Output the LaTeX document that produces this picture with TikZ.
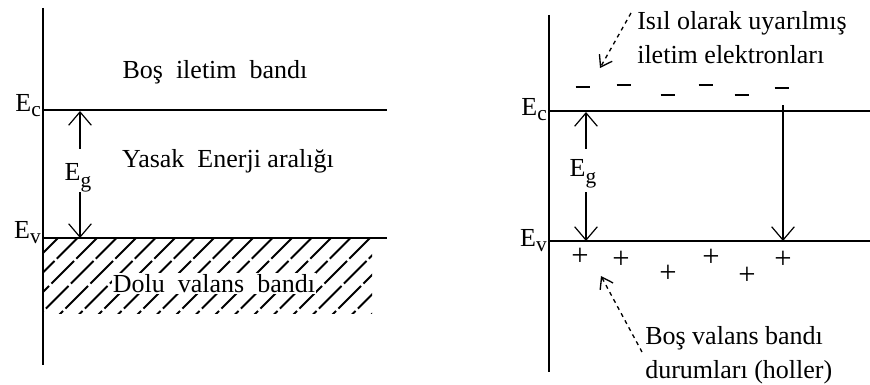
\documentclass[tikz,border=0pt]{standalone}
\usepackage{fontspec}
\setmainfont{Liberation Serif}
\usetikzlibrary{arrows.meta}
\newcommand{\lowsub}[2][4pt]{\raisebox{-#1}{\fontsize{16}{16}\selectfont #2}}

\begin{document}
\begin{tikzpicture}[x=0.75pt,y=-0.75pt,
    font=\fontsize{19.5}{25.5}\selectfont,
    level/.style={line width=1.3pt},
    gaparrow/.style={line width=0.9pt,-{Straight Barb[length=10pt,width=17pt,line width=0.9pt]}},
    notearrow/.style={line width=1pt,dashed,-{Straight Barb[length=8pt,width=11pt,line width=1pt]}},
    hatch/.style={line width=1.4pt,dash pattern=on 24pt off 2.5pt},
    charge/.style={inner sep=0pt,font=\fontsize{23}{23}\selectfont}]
    \useasboundingbox (0,0) rectangle (870,385);

    % left: empty conduction band, filled valence band
    \coordinate (lTop) at (43,8);
    \coordinate (lBot) at (43,365);
    \coordinate (lc0) at (43,110);
    \coordinate (lc1) at (387,110);
    \coordinate (lv0) at (43,238);
    \coordinate (lv1) at (387,238);
    \coordinate (lgA) at (80,111);
    \coordinate (lgB) at (80,238);

    \begin{scope}
        \clip (43,238) rectangle (372,313);
        \foreach \k in {0,...,20}
            \draw[hatch] ({60+19.5*\k},236) -- ++(-80,80);
    \end{scope}
    \node[anchor=base, fill=white, inner sep=1pt] (lDolu) at (214,292) {Dolu\ \ valans\ \ bandı};

    \draw[level] (lTop) -- (lBot);
    \draw[level] (lc0) -- (lc1);
    \draw[level] (lv0) -- (lv1);

    \node[anchor=base east, inner sep=0pt] (lEc) at (41,111) {E\lowsub{c}};
    \node[anchor=base east, inner sep=0pt] (lEv) at (41,238) {E\lowsub{v}};
    \node[anchor=base, inner sep=0pt] (lBos) at (215,79) {Boş\ \ iletim\ \ bandı};
    \node[anchor=base, inner sep=0pt] (lYasak) at (228,167) {Yasak\ \ Enerji aralığı};

    \node[inner sep=0pt] (lEg) at (78,178) {E\lowsub[5pt]{g}};
    \draw[gaparrow, shorten <=11pt] (lgA |- lEg.north) -- (lgA);
    \draw[gaparrow] (lgB |- lEg.south) -- (lgB);

    % right: thermally excited electrons and holes
    \coordinate (rTop) at (549,15);
    \coordinate (rBot) at (549,372);
    \coordinate (rc0) at (549,111);
    \coordinate (rc1) at (870,111);
    \coordinate (rv0) at (549,241);
    \coordinate (rv1) at (870,241);
    \coordinate (rgA) at (586,112);
    \coordinate (rgB) at (586,241);
    \coordinate (rjump) at (783,105);
    \coordinate (rland) at (783,241);

    \draw[level] (rTop) -- (rBot);
    \draw[level] (rc0) -- (rc1);
    \draw[level] (rv0) -- (rv1);

    \node[anchor=base east, inner sep=0pt] (rEc) at (547,115) {E\lowsub{c}};
    \node[anchor=base east, inner sep=0pt] (rEv) at (547,246) {E\lowsub{v}};

    \node[inner sep=0pt] (rEg) at (583,174) {E\lowsub[5pt]{g}};
    \draw[gaparrow, shorten <=8pt] (rgA |- rEg.north) -- (rgA);
    \draw[gaparrow, shorten <=3pt] (rgB |- rEg.south) -- (rgB);
    \draw[gaparrow] (rjump) -- (rland);

    \foreach \x/\y [count=\i] in {583/87, 624/85, 668/95, 706/85, 742/95, 782/88}
        \node[charge] (minus\i) at (\x,\y) {\rule{11pt}{1pt}};
    \foreach \x/\y [count=\i] in {580/257, 621/260, 668/274, 711/258, 747/276, 783/260}
        \node[charge] (plus\i) at (\x,\y) {+};

    \node[anchor=north west, align=left, inner sep=0pt] (rIsil) at (637,11) {Isıl olarak uyarılmış\\iletim elektronları};
    \node[anchor=north west, align=left, inner sep=0pt] (rBosv) at (645,326) {Boş valans bandı\\durumları (holler)};

    \coordinate (eTail) at (631,13);
    \coordinate (eTip) at (600,68);
    \coordinate (hTail) at (642,352);
    \coordinate (hTip) at (601,276);
    \draw[notearrow] (eTail) -- (eTip);
    \draw[notearrow] (hTail) -- (hTip);
\end{tikzpicture}
\end{document}
